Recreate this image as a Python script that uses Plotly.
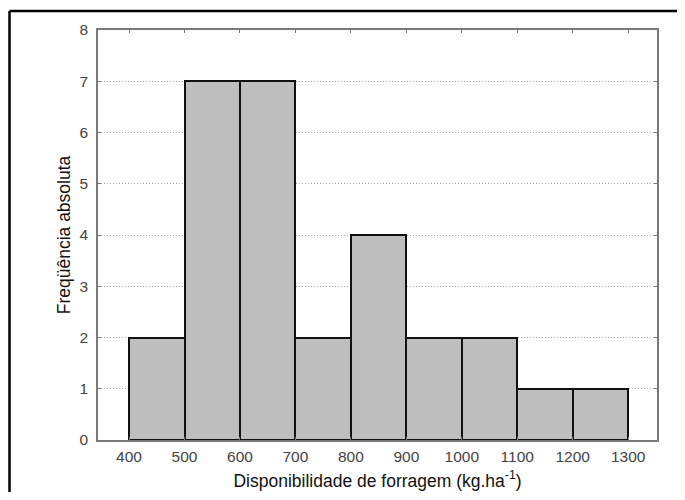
import plotly.graph_objects as go

bin_starts = [400, 500, 600, 700, 800, 900, 1000, 1100, 1200]
bin_width = 100
counts = [2, 7, 7, 2, 4, 2, 2, 1, 1]
x_ticks = [400, 500, 600, 700, 800, 900, 1000, 1100, 1200, 1300]
y_ticks = [0, 1, 2, 3, 4, 5, 6, 7, 8]

centers = [s + bin_width / 2 for s in bin_starts]

fig = go.Figure()
fig.add_trace(go.Bar(
    x=centers, y=counts, width=[bin_width] * len(counts),
    marker=dict(color="#bebebe", line=dict(color="#111111", width=2)),
    showlegend=False,
))

axis_common = dict(
    showline=True, linecolor="#7a7a7a", linewidth=1.5, mirror="ticks",
    ticks="inside", ticklen=3, tickcolor="#7a7a7a", tickwidth=1,
    tickfont=dict(family="Liberation Sans, Arial", size=15.5, color="#444444"),
    zeroline=False, automargin=False,
)

border = dict(color="black", width=2.5)
fig.update_layout(
    width=669, height=484,
    paper_bgcolor="white", plot_bgcolor="white",
    margin=dict(l=90, r=20, t=22, b=52),
    xaxis=dict(range=[344, 1352], tickvals=x_ticks, showgrid=False,
               ticklabelstandoff=2,
               title=dict(text="Disponibilidade de forragem (kg.ha<sup>-1</sup>)",
                          font=dict(family="Liberation Sans, Arial", size=17.5, color="#111111"),
                          standoff=10),
               **axis_common),
    yaxis=dict(range=[0, 8], tickvals=y_ticks, showgrid=True,
               ticklabelstandoff=5,
               gridcolor="#aaaaaa", griddash="1px,2px", gridwidth=1,
               title=dict(text="Freqüência absoluta",
                          font=dict(family="Liberation Sans, Arial", size=17.5, color="#111111"),
                          standoff=4),
               **axis_common),
    bargap=0,
    shapes=[
        dict(type="line", xref="paper", yref="paper",
             x0=-0.1583, x1=-0.1583, y0=-0.3, y1=1.0463, line=border, layer="below"),
        dict(type="line", xref="paper", yref="paper",
             x0=-0.1583, x1=1.2, y0=1.0463, y1=1.0463, line=border, layer="below"),
    ],
)

fig.write_html("out.html")
